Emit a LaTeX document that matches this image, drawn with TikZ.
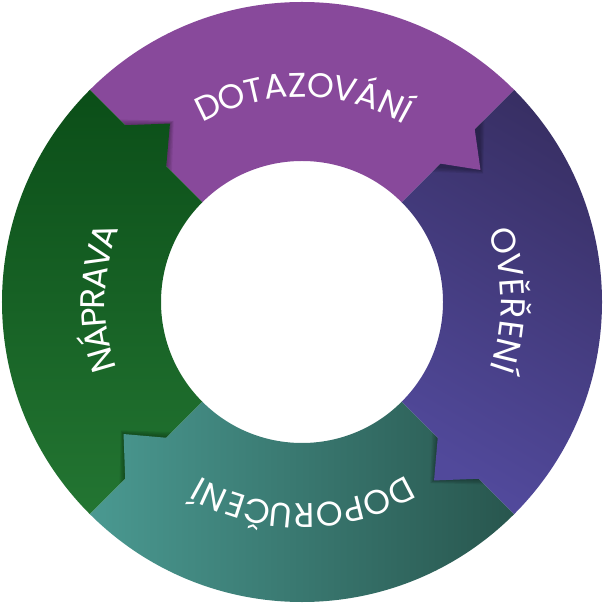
\documentclass[tikz,border=0pt]{standalone}
\usepackage{fontspec}
\newfontfamily\labelfont{Poppins}

\begin{document}
\begin{tikzpicture}[x=0.02cm, y=0.02cm,
    letter/.style={font=\labelfont\fontsize{19.5}{22}\selectfont, text=white, inner sep=0pt, anchor=base},
    halo/.style={fill=black, opacity=0.08}]
    % Define colors
    \definecolor{askpurple}{RGB}{136,73,155}
    \definecolor{checkblue}{RGB}{81,73,155}
    \definecolor{checkdark}{RGB}{56,47,100}
    \definecolor{adviceteal}{RGB}{74,153,145}
    \definecolor{advicedark}{RGB}{40,86,78}
    \definecolor{fixdark}{RGB}{11,78,24}
    \definecolor{fixgreen}{RGB}{35,117,50}

    \useasboundingbox (-302,-302) rectangle (301,302);

    % Top segment (its arrow comes last)
    \fill[askpurple] (135:300) arc[start angle=135, end angle=45, radius=300]
        -- (45:141) arc[start angle=45, end angle=135, radius=141] -- cycle;

    % Left segment and its arrow
    \foreach \k in {1,...,4}
        \fill[halo] (135:{250+2*\k}) -- ({126.5-0.3*\k}:222) -- (135:{192-2*\k}) -- cycle;
    \shade[top color=fixdark, bottom color=fixgreen]
        (225:300) arc[start angle=225, end angle=135, radius=300]
        -- (135:250) -- (126.5:222) -- (135:192) -- (135:141)
        arc[start angle=135, end angle=225, radius=141] -- cycle;

    % Bottom segment and its arrow
    \foreach \k in {1,...,4}
        \fill[halo] (225:{250+2*\k}) -- ({216.5-0.3*\k}:222) -- (225:{192-2*\k}) -- cycle;
    \shade[left color=adviceteal, middle color=adviceteal, right color=advicedark]
        (315:300) arc[start angle=315, end angle=225, radius=300]
        -- (225:250) -- (216.5:222) -- (225:192) -- (225:141)
        arc[start angle=225, end angle=315, radius=141] -- cycle;

    % Right segment and its arrow
    \foreach \k in {1,...,4}
        \fill[halo] (315:{250+2*\k}) -- ({306.5-0.3*\k}:222) -- (315:{192-2*\k}) -- cycle;
    \shade[top color=checkdark, middle color=checkblue, bottom color=checkblue, shading angle=-30]
        (45:300) arc[start angle=45, end angle=-45, radius=300]
        -- (-45:250) -- (-53.5:222) -- (-45:192) -- (-45:141)
        arc[start angle=-45, end angle=45, radius=141] -- cycle;

    % Arrow of the top segment
    \foreach \k in {1,...,4}
        \fill[halo] (45:{250+2*\k}) -- ({36.5-0.3*\k}:222) -- (45:{192-2*\k}) -- cycle;
    \fill[askpurple] (47:251) -- (36.5:222) -- (47:191) -- cycle;

    % Labels, letter by letter along the ring
    \foreach \ch/\a [count=\i] in {D/115.75,O/109.02,T/102.88,A/97.06,Z/91.24,O/85.1,V/78.5,Á/72.22,N/65.76,Í/61.3}
        \node[letter, rotate=\a-90] (ask\i) at (\a:205) {\ch};
    \foreach \ch/\a [count=\i] in {O/16.7,V/9.83,Ě/3.91,Ř/-1.77,E/-7.45,N/-13.56,Í/-18.2}
        \node[letter, rotate=\a-90] (check\i) at (\a:199) {\ch};
    \foreach \ch/\a [count=\i] in {D/297.5,O/290.48,P/283.89,O/277.3,R/270.66,U/264.4,Č/257.81,E/251.79,N/245.67,Í/241.02}
        \node[letter, rotate=\a-90] (advice\i) at (\a:202) {\ch};
    \foreach \ch/\a [count=\i] in {N/196.2,Á/190.08,P/184.39,R/179.01,A/173.28,V/167.34,A/161.4}
        \node[letter, rotate=\a-90] (fix\i) at (\a:197) {\ch};
\end{tikzpicture}
\end{document}
